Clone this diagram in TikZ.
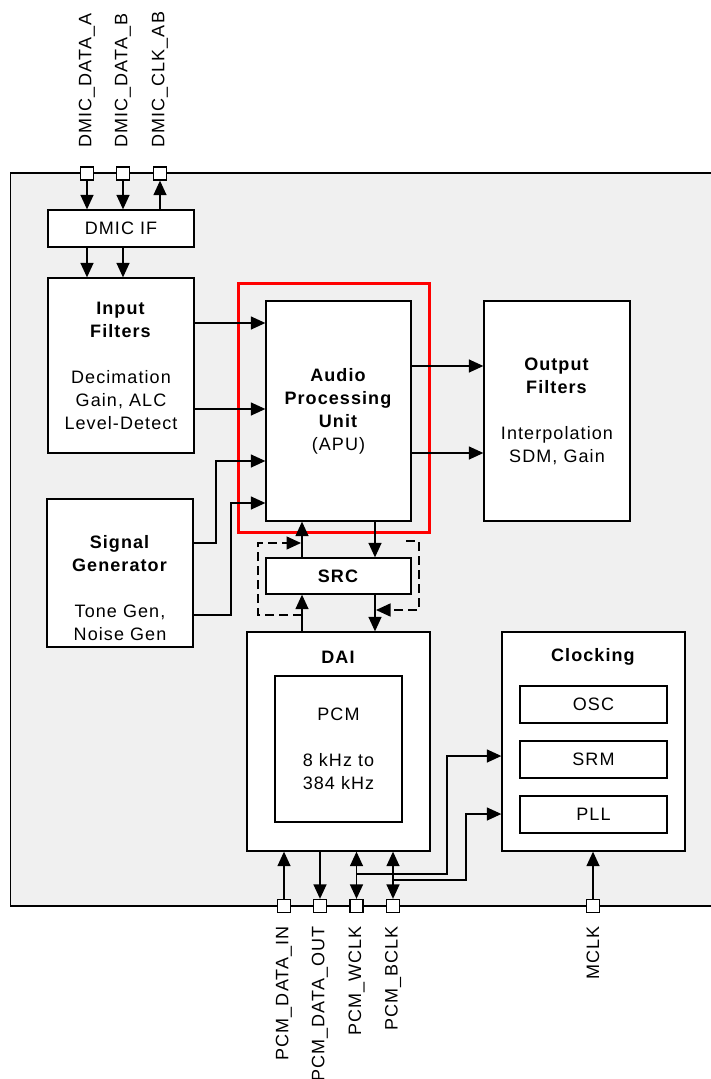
\documentclass[tikz,border=0pt]{standalone}
\usepackage{fontspec}
\setmainfont{Liberation Sans}[LetterSpace=6]
\usetikzlibrary{arrows.meta}
\begin{document}
\begin{tikzpicture}[x=1pt,y=-1pt,
  every node/.style={font=\fontsize{18}{23}\selectfont, inner sep=0pt},
  blk/.style={draw=black, fill=white, line width=1.3pt, align=center},
  pinbox/.style={draw=black, fill=white, line width=1.3pt, minimum size=13pt},
  wire/.style={line width=1.4pt},
  tip/.tip={Triangle[length=14.5pt,width=13pt]},
  arr/.style={wire, -tip},
  darr/.style={wire, tip-tip},
  dsh/.style={wire, dash pattern=on 9pt off 5pt},
  lbl/.style={rotate=90}
]
\useasboundingbox (0,0) rectangle (711,1079);
% outer chip area
\fill[fill={rgb,255:red,240;green,240;blue,240}] (10.5,173) rectangle (711,906);
\draw[wire] (711,173) -- (10.5,173) -- (10.5,906) -- (711,906);

% blocks
\node[blk, minimum width=146, minimum height=37] (dmic) at (121,228.5) {DMIC IF};
\node[blk, minimum width=146, minimum height=175] (inf) at (121,365.5)
  {\textbf{Input}\\\textbf{Filters}\\[23pt]Decimation\\Gain, ALC\\Level-Detect};
\node[blk, minimum width=146, minimum height=148] (sg) at (120,573) {};
\node[align=center] (sgt) at (120,588)
  {\textbf{Signal}\\\textbf{Generator}\\[23pt]Tone Gen,\\Noise Gen};
\node[blk, minimum width=145, minimum height=220] (apu) at (338.5,411)
  {\textbf{Audio}\\\textbf{Processing}\\\textbf{Unit}\\(APU)};
\node[blk, minimum width=146, minimum height=220] (out) at (557,411)
  {\textbf{Output}\\\textbf{Filters}\\[23pt]Interpolation\\SDM, Gain};
\node[blk, minimum width=145, minimum height=36] (src) at (338.5,576) {\textbf{SRC}};
\node[blk, minimum width=183, minimum height=219] (dai) at (338.5,741.5) {};
\node (dait) at (338.5,657) {\textbf{DAI}};
\node[blk, minimum width=127, minimum height=146] (pcm) at (338.5,749)
  {PCM\\[23pt]8 kHz to\\384 kHz};
\node[blk, minimum width=183, minimum height=219] (clk) at (593.5,741.5) {};
\node (clkt) at (593.5,657) {\textbf{Clocking}};
\node[blk, minimum width=147, minimum height=37] (osc) at (593.5,704.5) {OSC};
\node[blk, minimum width=147, minimum height=37] (srm) at (593.5,759.5) {SRM};
\node[blk, minimum width=147, minimum height=37] (pll) at (593.5,814.5) {PLL};

% highlight
\node[draw={rgb,255:red,255;green,0;blue,0}, line width=3pt, minimum width=191, minimum height=249] (hl) at (333.5,407.5) {};

% pins
\node[pinbox] (pA) at (87,173.5) {};
\node[pinbox] (pB) at (123,173.5) {};
\node[pinbox] (pC) at (160,173.5) {};
\node[pinbox] (q1) at (284,906) {};
\node[pinbox] (q2) at (320,906) {};
\node[pinbox] (q3) at (356.5,906) {};
\node[pinbox] (q4) at (393,906) {};
\node[pinbox] (qm) at (593,906) {};

% pin labels
\node[lbl, anchor=west] (lA) at (87,148) {DMIC\_DATA\_A};
\node[lbl, anchor=west] (lB) at (123,148) {DMIC\_DATA\_B};
\node[lbl, anchor=west] (lC) at (160,148) {DMIC\_CLK\_AB};
\node[lbl, anchor=east] (l1) at (284,926) {PCM\_DATA\_IN};
\node[lbl, anchor=east] (l2) at (320,926) {PCM\_DATA\_OUT};
\node[lbl, anchor=east] (l3) at (356.5,926) {PCM\_WCLK};
\node[lbl, anchor=east] (l4) at (393,926) {PCM\_BCLK};
\node[lbl, anchor=east] (lm) at (593,926) {MCLK};

% DMIC connections
\draw[arr] (pA.south) -- (pA.south |- dmic.north);
\draw[arr] (pB.south) -- (pB.south |- dmic.north);
\draw[arr] (pC.south |- dmic.north) -- (pC.south);
\draw[arr] (pA |- dmic.south) -- (pA |- inf.north);
\draw[arr] (pB |- dmic.south) -- (pB |- inf.north);

% into APU
\draw[arr] (inf.east |- 0,323) -- (apu.west |- 0,323);
\draw[arr] (inf.east |- 0,409) -- (apu.west |- 0,409);
\draw[arr] (sg.east |- 0,543) -- (216,543) -- (216,461) -- (apu.west |- 0,461);
\draw[arr] (sg.east |- 0,615) -- (231,615) -- (231,503) -- (apu.west |- 0,503);

% APU to output filters
\draw[arr] (apu.east |- 0,366) -- (out.west |- 0,366);
\draw[arr] (apu.east |- 0,453) -- (out.west |- 0,453);

% SRC paths
\draw[arr] (src.north -| 302,0) -- (apu.south -| 302,0);
\draw[arr] (apu.south -| 375,0) -- (src.north -| 375,0);
\draw[arr] (dai.north -| 302,0) -- (src.south -| 302,0);
\draw[arr] (src.south -| 375,0) -- (dai.north -| 375,0);
\coordinate (bl) at (302,615);
\coordinate (br) at (406,541);
\draw[dsh, -tip] (bl) -- (258,615) -- (258,543) -- (301,543);
\draw[dsh, -tip] (br) -- (419,541) -- (419,610) -- (376,610);

% DAI pins
\draw[arr] (q1.north) -- (q1.north |- dai.south);
\draw[arr] (q2 |- dai.south) -- (q2.north);
\draw[darr] (q3 |- dai.south) -- (q3.north);
\draw[darr] (q4 |- dai.south) -- (q4.north);
\draw[arr] (q3 |- 0,874) -- (447,874) -- (447,756) -- (clk.west |- 0,756);
\draw[arr] (q4 |- 0,880) -- (466,880) -- (466,814) -- (clk.west |- 0,814);
\draw[arr] (qm.north) -- (qm.north |- clk.south);
\end{tikzpicture}
\end{document}
